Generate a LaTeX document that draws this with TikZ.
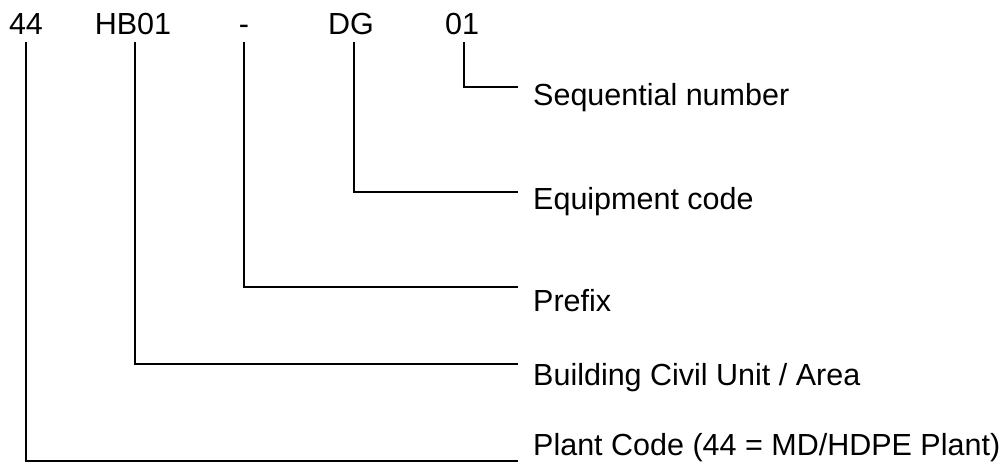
\documentclass[tikz,border=0pt]{standalone}
\usepackage{fontspec}
\setmainfont{Liberation Sans}
\usepackage{tikz}
\usetikzlibrary{positioning,calc}

\begin{document}
\begin{tikzpicture}[
  x=1pt,y=-1pt,
  code/.style={anchor=base,inner sep=0pt,inner ysep=7pt,font=\fontsize{30.5}{35}\selectfont},
  label/.style={anchor=base west,inner sep=0pt,font=\fontsize{30.5}{35}\selectfont},
  lead/.style={draw=black,line width=2pt}
]
\useasboundingbox (0,0) rectangle (1003,462);

\node[code] (plant) at (26,35) {44};
\node[code] (area) at (133,35) {HB01};
\node[code] (prefix) at (244,35) {-};
\node[code] (equip) at (351,35) {DG};
\node[code] (seq) at (462,35) {01};

\node[label] (seqtext) at (533,105.5) {Sequential number};
\node[label] (equiptext) at (533,210) {Equipment code};
\node[label] (prefixtext) at (533,311.5) {Prefix};
\node[label] (areatext) at (533,385) {Building Civil Unit / Area};
\node[label] (planttext) at (533,455) {Plant Code (44 = MD/HDPE Plant)};

\coordinate (seqend) at (518,86.7);
\coordinate (equipend) at (518,191.7);
\coordinate (prefixend) at (518,286.7);
\coordinate (areaend) at (518,364.3);
\coordinate (plantend) at (518,461);

\draw[lead] ([xshift=1.5pt]seq.south) |- (seqend);
\draw[lead] ([xshift=3pt]equip.south) |- (equipend);
\draw[lead] (prefix.south) |- (prefixend);
\draw[lead] ([xshift=2pt]area.south) |- (areaend);
\draw[lead] (plant.south) |- (plantend);
\end{tikzpicture}
\end{document}
